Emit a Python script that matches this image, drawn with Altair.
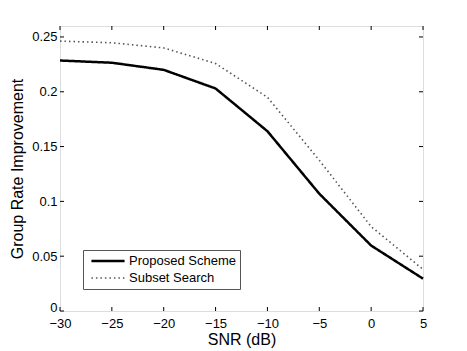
import altair as alt
import pandas as pd

snr = [-30, -25, -20, -15, -10, -5, 0, 5]
proposed = [0.2285, 0.2265, 0.2200, 0.2030, 0.1640, 0.1070, 0.0597, 0.0295]
subset = [0.2462, 0.2447, 0.2400, 0.2258, 0.1950, 0.1375, 0.0770, 0.0380]
series_names = ["Proposed Scheme", "Subset Search"]
x_ticks = [-30, -25, -20, -15, -10, -5, 0, 5]
y_ticks = [0, 0.05, 0.1, 0.15, 0.2, 0.25]

W, H = 363, 285
FONT = "Liberation Sans"

rows = []
for s, p, q in zip(snr, proposed, subset):
    rows.append({"snr": s, "value": p, "series": series_names[0]})
    rows.append({"snr": s, "value": q, "series": series_names[1]})
df = pd.DataFrame(rows)

xscale = alt.Scale(domain=[-30, 5], nice=False, zero=False)
yscale = alt.Scale(domain=[0, 0.26], nice=False)

leg = dict(title=None, orient="none", legendX=23, legendY=224)

lines = alt.Chart(df).mark_line().encode(
    x=alt.X("snr:Q", scale=xscale,
            axis=alt.Axis(values=x_ticks, title="SNR (dB)", grid=False, domain=False,
                          tickSize=0, labelPadding=6, labelFontSize=13, titleFontSize=16,
                          titleFontWeight="normal", titlePadding=1, labelColor="black",
                          titleColor="black", labelFont=FONT, titleFont=FONT,
                          labelFlush=False, labelOverlap=False)),
    y=alt.Y("value:Q", scale=yscale,
            axis=alt.Axis(values=y_ticks, format="~g", title="Group Rate Improvement", grid=False,
                          domain=False, tickSize=0, labelPadding=3, labelFontSize=13,
                          titleFontSize=16, titleFontWeight="normal", titlePadding=6,
                          labelColor="black", titleColor="black", labelFont=FONT, titleFont=FONT,
                          labelFlush=False, labelOverlap=False,
                          labelOffset={"condition": {"test": "datum.value == 0", "value": -4},
                                       "value": 0})),
    color=alt.Color("series:N", scale=alt.Scale(domain=series_names, range=["black", "#555555"]),
                    legend=alt.Legend(**leg, fillColor="white", strokeColor="#555555", padding=4,
                                      symbolType="stroke", symbolSize=1100, symbolOffset=3,
                                      clipHeight=14, rowPadding=3,
                                      labelFontSize=13, labelFont=FONT, labelColor="black",
                                      labelOffset=3)),
    strokeDash=alt.StrokeDash("series:N", scale=alt.Scale(domain=series_names,
                                                          range=[[1, 0], [1.5, 3]]),
                              legend=alt.Legend(**leg)),
    strokeWidth=alt.StrokeWidth("series:N", scale=alt.Scale(domain=series_names, range=[2.5, 1.6]),
                                legend=alt.Legend(**leg)),
)

xt = pd.DataFrame({"t": x_ticks})
yt = pd.DataFrame({"t": y_ticks})
tick_color = "black"
xb = alt.Chart(xt).mark_rule(color=tick_color, strokeWidth=1).encode(
    x=alt.X("t:Q", scale=xscale), y=alt.value(H), y2=alt.value(H - 4))
xtop = alt.Chart(xt).mark_rule(color=tick_color, strokeWidth=1).encode(
    x=alt.X("t:Q", scale=xscale), y=alt.value(0), y2=alt.value(4))
yl = alt.Chart(yt).mark_rule(color=tick_color, strokeWidth=1).encode(
    y=alt.Y("t:Q", scale=yscale), x=alt.value(0), x2=alt.value(4))
yr = alt.Chart(yt).mark_rule(color=tick_color, strokeWidth=1).encode(
    y=alt.Y("t:Q", scale=yscale), x=alt.value(W), x2=alt.value(W - 4))

chart = alt.layer(lines, xb, xtop, yl, yr).properties(
    width=W, height=H,
    autosize=alt.AutoSizeParams(type="none"),
    padding={"left": 52, "top": 18, "right": 20, "bottom": 40},
).configure_view(stroke="black", strokeWidth=1).configure(background="white")

chart.save("out.html", embed_options={"renderer": "svg", "actions": False})
